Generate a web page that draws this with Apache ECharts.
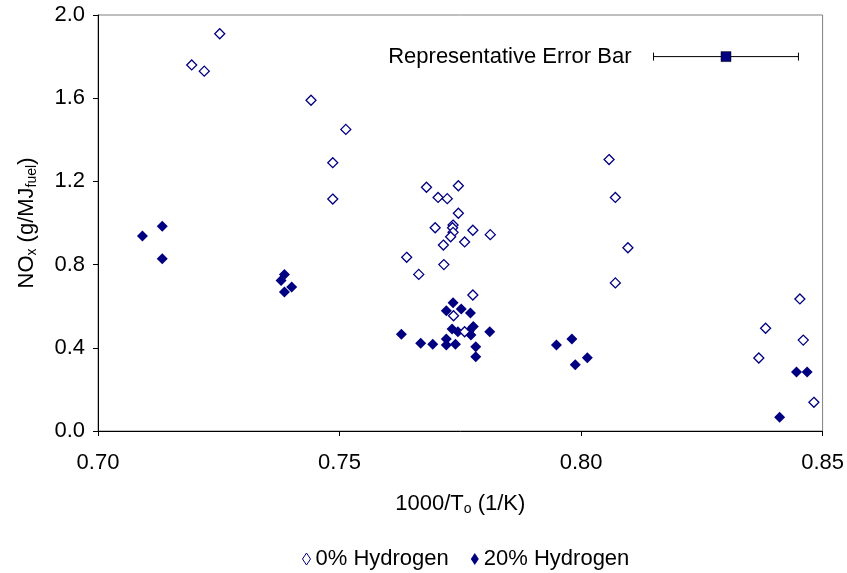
<!DOCTYPE html>
<html>
<head>
<meta charset="utf-8">
<script src="https://cdn.jsdelivr.net/npm/echarts@6/dist/echarts.min.js"></script>
<style>
  html, body { margin: 0; padding: 0; background: #fff; }
  #chart { width: 847px; height: 573px; }
</style>
</head>
<body>
<div id="chart"></div>
<script>
// 1000/To (1/K) vs NOx (g/MJfuel)
const hydrogen0 = [
  [0.7252, 1.91], [0.7194, 1.76], [0.7220, 1.73], [0.7441, 1.59], [0.7513, 1.45],
  [0.7486, 1.29], [0.7486, 1.115],
  [0.7680, 1.172], [0.7746, 1.179], [0.7704, 1.123], [0.7723, 1.117], [0.7746, 1.047],
  [0.7698, 0.977], [0.7735, 0.990], [0.7734, 0.977], [0.7735, 0.955], [0.7730, 0.934],
  [0.7776, 0.965], [0.7812, 0.944], [0.7759, 0.909], [0.7715, 0.894], [0.7639, 0.835],
  [0.7716, 0.800], [0.7664, 0.753], [0.7776, 0.654], [0.7736, 0.554], [0.7759, 0.477],
  [0.8058, 1.305], [0.8071, 1.123], [0.8097, 0.881], [0.8071, 0.712],
  [0.8453, 0.635], [0.8382, 0.494], [0.8460, 0.437], [0.8368, 0.351], [0.8482, 0.138]
];
const hydrogen20 = [
  [0.7092, 0.9375], [0.7133, 0.984], [0.7133, 0.828],
  [0.7386, 0.753], [0.7379, 0.723], [0.7401, 0.692], [0.7386, 0.668],
  [0.7735, 0.617], [0.7721, 0.578], [0.7752, 0.587], [0.7771, 0.567], [0.7628, 0.465],
  [0.7733, 0.490], [0.7745, 0.477], [0.7768, 0.480], [0.7777, 0.503], [0.7772, 0.462],
  [0.7811, 0.477], [0.7668, 0.422], [0.7693, 0.417], [0.7721, 0.442], [0.7721, 0.413],
  [0.7740, 0.417], [0.7782, 0.405], [0.7782, 0.357],
  [0.7949, 0.413], [0.7981, 0.442], [0.7988, 0.319], [0.8013, 0.352],
  [0.8446, 0.284], [0.8468, 0.284], [0.8411, 0.066]
];
// representative error bar: centre and half width
const errorBarCenter = [0.83, 1.8];
const errorBarHalf = 0.015;
const seriesNames = ['0% Hydrogen', '20% Hydrogen'];

const navy = '#000080';
const font = "'Liberation Sans', Arial, sans-serif";
const fs = 22;

const chart = echarts.init(document.getElementById('chart'));

function renderErrorBar(params, api) {
  const lo = api.coord([api.value(0) - api.value(2), api.value(1)]);
  const hi = api.coord([api.value(0) + api.value(2), api.value(1)]);
  const mid = api.coord([api.value(0), api.value(1)]);
  const ls = { stroke: '#000', lineWidth: 1 };
  return {
    type: 'group',
    children: [
      { type: 'line', shape: { x1: lo[0], y1: lo[1], x2: hi[0], y2: hi[1] }, style: ls },
      { type: 'line', shape: { x1: lo[0], y1: lo[1] - 4, x2: lo[0], y2: lo[1] + 4 }, style: ls },
      { type: 'line', shape: { x1: hi[0], y1: hi[1] - 4, x2: hi[0], y2: hi[1] + 4 }, style: ls },
      { type: 'rect', shape: { x: mid[0] - 5, y: mid[1] - 5, width: 10, height: 10 },
        style: { fill: navy, stroke: '#000', lineWidth: 0.5 } },
      { type: 'text', x: lo[0] - 22, y: lo[1],
        style: { text: 'Representative Error Bar', fill: '#000', font: fs + 'px ' + font,
                 align: 'right', verticalAlign: 'middle' } }
    ]
  };
}

chart.setOption({
  animation: false,
  textStyle: { fontFamily: font },
  grid: { left: 98, right: 24, top: 15, bottom: 142, show: true, borderColor: '#808080', borderWidth: 1 },
  legend: {
    top: 543,
    left: 297,
    itemWidth: 8,
    itemHeight: 12,
    itemGap: 22,
    textStyle: { fontSize: fs, color: '#000', fontFamily: font },
    data: [
      { name: seriesNames[0], icon: 'diamond', itemStyle: { color: '#fff', borderColor: navy, borderWidth: 1 } },
      { name: seriesNames[1], icon: 'diamond', itemStyle: { color: navy } }
    ]
  },
  xAxis: {
    type: 'value',
    min: 0.70, max: 0.85, interval: 0.05,
    splitLine: { show: false },
    axisLine: { onZero: false, lineStyle: { color: '#000', width: 1 } },
    axisTick: { show: true, length: 5, lineStyle: { color: '#000' } },
    axisLabel: { margin: 21, fontSize: fs, color: '#000', formatter: v => v.toFixed(2) },
    name: '{n|1000/T}{s|o}{n| (1/K)}',
    nameLocation: 'middle',
    nameGap: 60,
    nameTextStyle: {
      rich: {
        n: { fontSize: fs, color: '#000', lineHeight: 26, fontFamily: font },
        s: { fontSize: 14, color: '#000', lineHeight: 14, padding: [11, 0, 0, 0], fontFamily: font }
      }
    }
  },
  yAxis: {
    type: 'value',
    min: 0, max: 2, interval: 0.4,
    splitLine: { show: false },
    axisLine: { show: true, onZero: false, lineStyle: { color: '#000', width: 1 } },
    axisTick: { show: true, length: 5, lineStyle: { color: '#000' } },
    axisLabel: { margin: 13, fontSize: fs, color: '#000', formatter: v => v.toFixed(1) },
    name: '{n|NO}{s|x}{n| (g/MJ}{s|fuel}{n|)}',
    nameLocation: 'middle',
    nameRotate: 90,
    nameGap: 58,
    nameTextStyle: {
      rich: {
        n: { fontSize: fs, color: '#000', lineHeight: 26, fontFamily: font },
        s: { fontSize: 14, color: '#000', lineHeight: 14, padding: [11, 0, 0, 0], fontFamily: font }
      }
    }
  },
  series: [
    {
      name: seriesNames[1],
      type: 'scatter',
      symbol: 'diamond',
      symbolSize: 11,
      itemStyle: { color: navy, opacity: 1 },
      data: hydrogen20
    },
    {
      name: seriesNames[0],
      type: 'scatter',
      symbol: 'diamond',
      symbolSize: 10,
      itemStyle: { color: '#fff', borderColor: navy, borderWidth: 1.3, opacity: 1 },
      data: hydrogen0
    },
    {
      type: 'custom',
      renderItem: renderErrorBar,
      silent: true,
      data: [[errorBarCenter[0], errorBarCenter[1], errorBarHalf]]
    }
  ]
});
</script>
</body>
</html>
